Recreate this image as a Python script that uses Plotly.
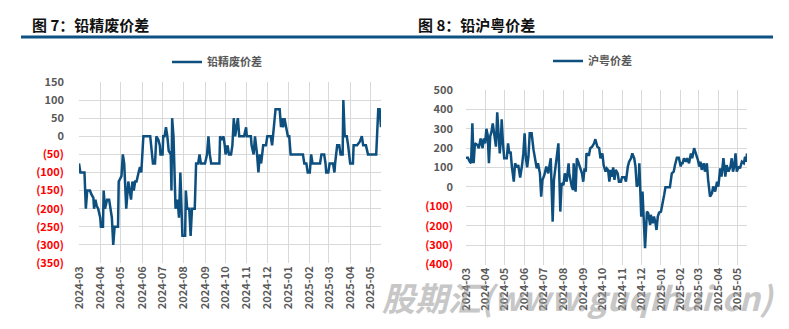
import plotly.graph_objects as go

W, H = 789, 329

# ---------------- data ----------------
scrap_dates = [
    "2024-03-01", "2024-03-03", "2024-03-09", "2024-03-11", "2024-03-13", "2024-03-17", "2024-03-19",
    "2024-03-22", "2024-03-23", "2024-03-25", "2024-03-27", "2024-03-29", "2024-04-01", "2024-04-02",
    "2024-04-05", "2024-04-06", "2024-04-08", "2024-04-11", "2024-04-14", "2024-04-16", "2024-04-18",
    "2024-04-20", "2024-04-22", "2024-04-27", "2024-04-28", "2024-05-02", "2024-05-04", "2024-05-06",
    "2024-05-09", "2024-05-12", "2024-05-14", "2024-05-16", "2024-05-18", "2024-05-20", "2024-05-22",
    "2024-05-24", "2024-05-27", "2024-05-29", "2024-05-31", "2024-06-01", "2024-06-03", "2024-06-13",
    "2024-06-15", "2024-06-17", "2024-06-20", "2024-06-22", "2024-06-25", "2024-06-27", "2024-06-28",
    "2024-07-01", "2024-07-02", "2024-07-04", "2024-07-06", "2024-07-08", "2024-07-10", "2024-07-13",
    "2024-07-14", "2024-07-15", "2024-07-17", "2024-07-20", "2024-07-23", "2024-07-25", "2024-07-27",
    "2024-07-29", "2024-07-30", "2024-08-03", "2024-08-04", "2024-08-06", "2024-08-09", "2024-08-11",
    "2024-08-13", "2024-08-17", "2024-08-19", "2024-08-22", "2024-08-24", "2024-08-26", "2024-09-01",
    "2024-09-04", "2024-09-06", "2024-09-08", "2024-09-10", "2024-09-22", "2024-09-23", "2024-09-26",
    "2024-09-28", "2024-09-30", "2024-10-01", "2024-10-04", "2024-10-06", "2024-10-09", "2024-10-11",
    "2024-10-13", "2024-10-15", "2024-10-17", "2024-10-19", "2024-10-21", "2024-10-28", "2024-10-31",
    "2024-11-01", "2024-11-07", "2024-11-08", "2024-11-11", "2024-11-13", "2024-11-16", "2024-11-18",
    "2024-11-20", "2024-11-22", "2024-11-25", "2024-11-29", "2024-12-01", "2024-12-06", "2024-12-08",
    "2024-12-10", "2024-12-13", "2024-12-19", "2024-12-21", "2024-12-22", "2024-12-24", "2024-12-26",
    "2024-12-28", "2024-12-31", "2025-01-02", "2025-01-04", "2025-01-22", "2025-01-24", "2025-01-27",
    "2025-01-29", "2025-02-01", "2025-02-03", "2025-02-05", "2025-02-16", "2025-02-18", "2025-02-22",
    "2025-02-24", "2025-02-25", "2025-02-28", "2025-03-02", "2025-03-07", "2025-03-09", "2025-03-10",
    "2025-03-13", "2025-03-16", "2025-03-18", "2025-03-21", "2025-03-22", "2025-03-24", "2025-03-27",
    "2025-03-29", "2025-04-01", "2025-04-05", "2025-04-06", "2025-04-11", "2025-04-15", "2025-04-18",
    "2025-04-20", "2025-04-24", "2025-04-27", "2025-05-09", "2025-05-10", "2025-05-12", "2025-05-14",
    "2025-05-16",
]
scrap_values = [
    -75, -100, -100, -200, -150, -150, -160,
    -170, -200, -175, -193, -200, -225, -250,
    -250, -150, -200, -175, -175, -200, -225,
    -300, -250, -250, -125, -110, -50, -75,
    -200, -125, -150, -175, -125, -150, -125,
    -125, -100, -85, -100, -50, 0, 0,
    -50, -75, -75, 0, -10, -25, -50,
    -50, 0, 0, 25, 0, -40, -50,
    -150, 50, 0, -200, -175, -225, -100,
    -200, -275, -275, -150, -200, -200, -275,
    -200, -200, -75, -75, -50, -75, -75,
    -50, 0, -50, -75, -75, 0, -10,
    0, -28, -50, -25, -50, -50, -25,
    50, 0, 25, 50, 0, 0, 25,
    0, 0, -25, -50, 0, -50, -100,
    -50, -75, -25, -25, 0, 0, -25,
    25, 75, 75, 25, 50, 25, 50,
    25, 0, 0, -50, -50, -75, -75,
    -100, -100, -50, -75, -75, -50, -50,
    -75, -100, -100, -75, -75, -100, -75,
    -25, -25, -50, -50, 100, 0, 0,
    -25, -75, -75, -25, -25, -15, 0,
    -25, -25, -50, -50, 0, 75, 75,
    25,
]

spread_dates = [
    "2024-03-01", "2024-03-04", "2024-03-07", "2024-03-09", "2024-03-11", "2024-03-13", "2024-03-15",
    "2024-03-19", "2024-03-21", "2024-03-24", "2024-03-27", "2024-03-29", "2024-03-31", "2024-04-02",
    "2024-04-04", "2024-04-06", "2024-04-08", "2024-04-10", "2024-04-12", "2024-04-15", "2024-04-17",
    "2024-04-19", "2024-04-22", "2024-04-23", "2024-04-25", "2024-04-26", "2024-04-28", "2024-04-30",
    "2024-05-04", "2024-05-06", "2024-05-08", "2024-05-10", "2024-05-12", "2024-05-15", "2024-05-17",
    "2024-05-20", "2024-05-22", "2024-05-25", "2024-05-28", "2024-05-30", "2024-06-01", "2024-06-03",
    "2024-06-05", "2024-06-07", "2024-06-09", "2024-06-12", "2024-06-15", "2024-06-18", "2024-06-20",
    "2024-06-22", "2024-06-25", "2024-06-27", "2024-06-29", "2024-07-02", "2024-07-05", "2024-07-08",
    "2024-07-12", "2024-07-13", "2024-07-15", "2024-07-17", "2024-07-20", "2024-07-22", "2024-07-24",
    "2024-07-27", "2024-07-29", "2024-08-01", "2024-08-03", "2024-08-06", "2024-08-09", "2024-08-10",
    "2024-08-12", "2024-08-14", "2024-08-16", "2024-08-17", "2024-08-20", "2024-08-22", "2024-08-24",
    "2024-08-27", "2024-08-30", "2024-09-01", "2024-09-03", "2024-09-05", "2024-09-06", "2024-09-08",
    "2024-09-10", "2024-09-12", "2024-09-15", "2024-09-18", "2024-09-20", "2024-09-23", "2024-09-26",
    "2024-09-28", "2024-10-01", "2024-10-03", "2024-10-06", "2024-10-08", "2024-10-10", "2024-10-12",
    "2024-10-14", "2024-10-16", "2024-10-18", "2024-10-20", "2024-10-22", "2024-10-25", "2024-10-27",
    "2024-10-30", "2024-11-01", "2024-11-05", "2024-11-07", "2024-11-10", "2024-11-12", "2024-11-15",
    "2024-11-17", "2024-11-20", "2024-11-22", "2024-11-24", "2024-11-27", "2024-11-28", "2024-12-01",
    "2024-12-03", "2024-12-05", "2024-12-07", "2024-12-10", "2024-12-12", "2024-12-15", "2024-12-16",
    "2024-12-19", "2024-12-21", "2024-12-23", "2024-12-25", "2024-12-27", "2024-12-29", "2025-01-01",
    "2025-01-04", "2025-01-06", "2025-01-08", "2025-01-15", "2025-01-18", "2025-01-21", "2025-01-23",
    "2025-01-26", "2025-01-29", "2025-02-01", "2025-02-02", "2025-02-04", "2025-02-06", "2025-02-09",
    "2025-02-11", "2025-02-14", "2025-02-17", "2025-02-19", "2025-02-22", "2025-02-25", "2025-02-28",
    "2025-03-02", "2025-03-04", "2025-03-06", "2025-03-09", "2025-03-11", "2025-03-14", "2025-03-16",
    "2025-03-19", "2025-03-22", "2025-03-24", "2025-03-27", "2025-03-30", "2025-04-01", "2025-04-04",
    "2025-04-06", "2025-04-09", "2025-04-12", "2025-04-14", "2025-04-17", "2025-04-20", "2025-04-22",
    "2025-04-24", "2025-04-26", "2025-04-28", "2025-04-30", "2025-05-03", "2025-05-05", "2025-05-08",
    "2025-05-11", "2025-05-13", "2025-05-15", "2025-05-16",
]
spread_values = [
    151, 151, 130, 122, 328, 122, 225,
    216, 200, 250, 200, 250, 225, 300,
    268, 122, 260, 285, 328, 234, 208,
    385, 191, 173, 260, 349, 225, 148,
    148, 225, 173, 182, 105, 27, 122,
    100, 113, 48, 113, 173, 277, 148,
    101, 156, 277, 277, 191, 130, 96,
    122, 70, -50, 36, 62, 105, 70,
    148, 36, -179, 36, 130, 165, 225,
    -127, 19, 10, 70, 27, 122, 70,
    27, 2, -15, 122, -24, 148, 130,
    96, 70, 27, 96, 79, 173, 165,
    165, 200, 208, 225, 246, 208, 200,
    148, 173, 113, 79, 96, 88, 27,
    88, 53, 101, 36, 88, 70, 27,
    27, 50, 50, 27, 105, 130, 148,
    173, 148, 105, 2, 19, 122, -153,
    -24, -153, -316, -127, -136, -196, -144,
    -187, -153, -179, -222, -153, -132, -127,
    -84, -41, -2, -2, 70, 79, 113,
    151, 151, 105, 122, 122, 148, 130,
    148, 122, 173, 148, 200, 173, 139,
    105, 130, 88, 122, 79, 122, 36,
    -50, -33, 2, -24, 27, 2, 96,
    53, 148, 53, 113, 79, 105, 148,
    79, 105, 173, 79, 105, 96, 130,
    122, 156, 130, 173,
]

left_ticks = [150, 100, 50, 0, -50, -100, -150, -200, -250, -300, -350]
right_ticks = [500, 400, 300, 200, 100, 0, -100, -200, -300, -400]

x_start, x_end = "2024-03-01", "2025-05-16"

LINE = "#0d4f7e"
GRID = "#d9d9d9"
LABEL = "#595959"
RED = "#ff0000"
FONT = "Noto Sans CJK SC"


def tick_text(vals):
    out = []
    for v in vals:
        if v < 0:
            out.append(f'<span style="color:{RED}">({abs(v)})</span>')
        else:
            out.append(str(v))
    return out


def px(x):
    return x / W


def py(y):
    return 1 - y / H


fig = go.Figure()
fig.add_trace(go.Scatter(x=scrap_dates, y=scrap_values, mode="lines", name="铅精废价差",
                         line=dict(color=LINE, width=2.5), xaxis="x", yaxis="y", legend="legend"))
fig.add_trace(go.Scatter(x=spread_dates, y=spread_values, mode="lines", name="沪粤价差",
                         line=dict(color=LINE, width=2.5), xaxis="x2", yaxis="y2", legend="legend2"))

xcommon = dict(type="date", range=[x_start, x_end], tick0="2024-03-01", dtick="M1",
               tickformat="%Y-%m", tickangle=-90, showgrid=True, gridcolor=GRID, gridwidth=1.2,
               showline=False, zeroline=False, ticks="", automargin=False,
               tickfont=dict(family=FONT, size=11, color=LABEL, weight="bold"))
ycommon = dict(showgrid=True, gridcolor=GRID, gridwidth=1.2, zeroline=False, showline=False,
               ticks="", automargin=False,
               tickfont=dict(family=FONT, size=11, color=LABEL, weight="bold"))

fig.update_layout(
    width=W, height=H, margin=dict(l=0, r=0, t=0, b=0),
    paper_bgcolor="white", plot_bgcolor="white",
    font=dict(family=FONT),
    xaxis=dict(**xcommon, domain=[px(79), px(381)], anchor="y"),
    yaxis=dict(**ycommon, domain=[py(263), py(82)], anchor="x", range=[-350, 150],
               ticklabelstandoff=14,
               tickvals=left_ticks, ticktext=tick_text(left_ticks)),
    xaxis2=dict(**xcommon, domain=[px(466), px(747)], anchor="y2"),
    yaxis2=dict(**ycommon, domain=[py(264.5), py(90)], anchor="x2", range=[-400, 500],
                ticklabelstandoff=12,
                tickvals=right_ticks, ticktext=tick_text(right_ticks)),
    legend=dict(x=px(167), y=py(62), xanchor="left", yanchor="middle", bgcolor="rgba(0,0,0,0)",
                font=dict(family=FONT, size=11, color=LABEL, weight="bold")),
    legend2=dict(x=px(548), y=py(61), xanchor="left", yanchor="middle", bgcolor="rgba(0,0,0,0)",
                 font=dict(family=FONT, size=11, color=LABEL, weight="bold")),
    showlegend=True,
)

fig.add_shape(type="line", xref="paper", yref="paper", x0=px(21), x1=px(773), y0=py(37), y1=py(37),
              line=dict(color="#0d5282", width=3))

fig.add_annotation(text="图 7：铅精废价差", xref="paper", yref="paper", x=px(30), y=py(24),
                   xanchor="left", yanchor="middle", showarrow=False,
                   font=dict(family=FONT, size=15, color="#111111", weight="bold"))
fig.add_annotation(text="图 8：铅沪粤价差", xref="paper", yref="paper", x=px(416), y=py(24),
                   xanchor="left", yanchor="middle", showarrow=False,
                   font=dict(family=FONT, size=15, color="#111111", weight="bold"))
fig.add_annotation(text="股期汇(www.guqihui.cn)", xref="paper", yref="paper", x=px(578), y=py(297),
                   xanchor="center", yanchor="middle", showarrow=False, opacity=0.55,
                   font=dict(family=FONT, size=33, color="#9a9a9a", weight="bold", style="italic"))

fig.write_html("out.html")
